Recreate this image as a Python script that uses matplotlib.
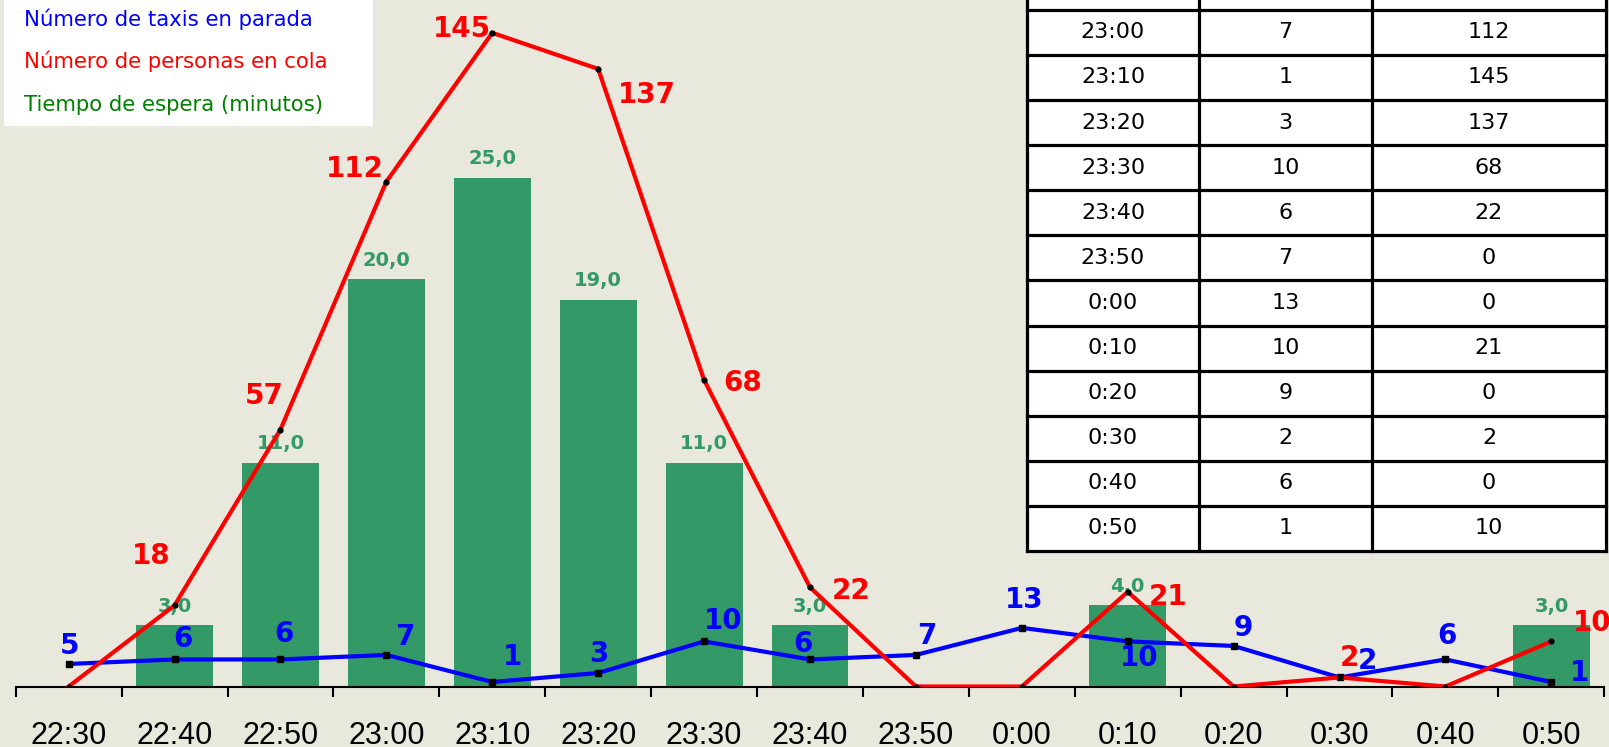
import numpy as np
import matplotlib
matplotlib.use("Agg")
import matplotlib.pyplot as plt
from matplotlib.patches import Rectangle

# ---------------- data ----------------
times = ['22:30', '22:40', '22:50', '23:00', '23:10', '23:20', '23:30', '23:40',
         '23:50', '0:00', '0:10', '0:20', '0:30', '0:40', '0:50']
taxis = [5, 6, 6, 7, 1, 3, 10, 6, 7, 13, 10, 9, 2, 6, 1]
people = [0, 18, 57, 112, 145, 137, 68, 22, 0, 0, 21, 0, 2, 0, 10]
wait = [0, 3, 11, 20, 25, 19, 11, 3, 0, 0, 4, 0, 0, 0, 3]

legend_labels = ['Número de taxis en parada', 'Número de personas en cola',
                 'Tiempo de espera (minutos)']

# ---------------- style / layout ----------------
BG = '#E8E8DD'
BAR = '#339966'
W, H = 1609, 747
DPI = 100

# label offsets in image pixels (dx right, dy down) of the label centre from its point
people_off = [None, (-23, -51), (-16, -36), (-32, -15), (-30, -6), (49, 24), (39, 1),
              (41, 2), None, None, (40, 3), None, (10, -21), None, (41, -20)]
taxi_off = [(1, -20), (8, -22), (3, -27), (18, -20), (20, -27), (1, -21), (19, -22),
            (-7, -17), (11, -21), (2, -30), (11, 15), (10, -20), (28, -18), (1, -25),
            (28, -11)]

fig = plt.figure(figsize=(W / DPI, H / DPI), dpi=DPI, facecolor=BG)

x_left, x_right = 15.7, 1604.3
y_base = 686.5
ax = fig.add_axes([x_left / W, (H - y_base) / H, (x_right - x_left) / W, y_base / H])
ax.set_facecolor(BG)
x = np.arange(len(times))

# bars (waiting time) on primary axis
ax.bar(x, wait, width=0.727, color=BAR, zorder=2)
ax.set_ylim(0, y_base / 20.36)
ax.set_xlim(-0.5, len(times) - 0.5)
for i, v in enumerate(wait):
    if v > 0:
        ax.annotate(f'{v:.1f}'.replace('.', ','), (i, v), xytext=(0, 13.5),
                    textcoords='offset pixels', ha='center', va='baseline',
                    fontsize=14, fontweight='bold', color=BAR, zorder=3)

for s in ['left', 'right', 'top']:
    ax.spines[s].set_visible(False)
ax.spines['bottom'].set_linewidth(1.5)
ax.spines['bottom'].set_zorder(5)
ax.set_yticks([])
ax.set_xticks(np.arange(-0.5, len(times), 1.0))
ax.set_xticklabels([])
ax.tick_params(axis='x', which='major', length=7.2, width=1.5, direction='out')
ax.set_xticks(x, labels=times, minor=True)
ax.tick_params(axis='x', which='minor', length=0, pad=24.5, labelsize=22)
for t in ax.get_xticklabels(minor=True):
    t.set_fontfamily('Liberation Sans')

# lines on twin axis
ax2 = ax.twinx()
ax2.set_ylim(0, y_base / 4.508)
ax2.set_xlim(-0.5, len(times) - 0.5)
ax2.axis('off')
ax2.plot(x, taxis, color='#0000FF', lw=3.0, marker='s', ms=4.5, mfc='black',
         mec='black', zorder=3)
ax2.plot(x, people, color='#FF0000', lw=3.0, marker='o', ms=3.5, mfc='black',
         mec='black', zorder=4)

for i, v in enumerate(taxis):
    dx, dy = taxi_off[i]
    ax2.annotate(str(v), (i, v), xytext=(dx, -(dy + 10)), textcoords='offset pixels',
                 ha='center', va='baseline', fontsize=20, fontweight='bold',
                 color='#0000FF', zorder=6, annotation_clip=False)
for i, v in enumerate(people):
    if people_off[i] is None:
        continue
    dx, dy = people_off[i]
    ax2.annotate(str(v), (i, v), xytext=(dx, -(dy + 10)), textcoords='offset pixels',
                 ha='center', va='baseline', fontsize=20, fontweight='bold',
                 color='#FF0000', zorder=7, annotation_clip=False)

# ---------------- overlay: legend box and table ----------------
ov = fig.add_axes([0, 0, 1, 1], zorder=10)
ov.set_xlim(0, W)
ov.set_ylim(H, 0)
ov.axis('off')
ov.patch.set_alpha(0)

ov.add_patch(Rectangle((4, -2), 368.7, 128, facecolor='white', edgecolor='none'))
for lab, col, yb in zip(legend_labels, ['#0000FF', '#FF0000', '#008000'], [26, 68.5, 111]):
    ov.text(24, yb, lab, color=col, fontsize=15.3, va='baseline', ha='left')

col_edges = [1027, 1199, 1372, 1606]
row_h = 45.1
table_bottom = 551
n = len(times)
row_tops = [table_bottom - row_h * (n - i) for i in range(n)]
first_top = min(t for t in row_tops if t + row_h > 0)
ov.add_patch(Rectangle((col_edges[0], first_top), col_edges[-1] - col_edges[0],
                       table_bottom - first_top, facecolor='white', edgecolor='none'))
lw_tab = 2.3
for i in range(n):
    if row_tops[i] + row_h <= 0:
        continue
    yc = row_tops[i] + row_h / 2
    if yc > 10:
        vals = [times[i], str(taxis[i]), str(people[i])]
        for c in range(3):
            ov.text((col_edges[c] + col_edges[c + 1]) / 2, yc, vals[c], ha='center',
                    va='center', fontsize=16, color='black')
    ov.plot([col_edges[0], col_edges[-1]], [row_tops[i], row_tops[i]], color='black',
            lw=lw_tab, solid_capstyle='projecting')
ov.plot([col_edges[0], col_edges[-1]], [table_bottom, table_bottom], color='black',
        lw=lw_tab, solid_capstyle='projecting')
for xe in col_edges:
    ov.plot([xe, xe], [first_top, table_bottom], color='black', lw=lw_tab,
            solid_capstyle='projecting')

fig.savefig('out.png', dpi=DPI, facecolor=BG)
